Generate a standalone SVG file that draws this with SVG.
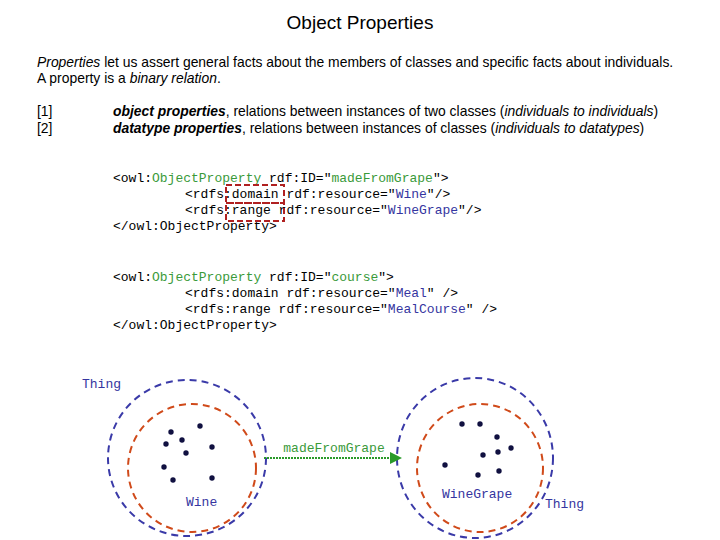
<svg xmlns="http://www.w3.org/2000/svg" width="720" height="540" viewBox="0 0 720 540">
<style>
.s{font-family:"Liberation Sans",Arial,sans-serif;font-size:13.9px;fill:#000}
.c{font-family:"Liberation Mono","Courier New",monospace;font-size:13px;fill:#000}
.g{fill:#3a9a3a}.b{fill:#3535a0}
.ob{fill:none;stroke:#3a3aa8;stroke-width:2;stroke-dasharray:7,5}
.or{fill:none;stroke:#d04a1a;stroke-width:2;stroke-dasharray:7,5}
.d{fill:#101040}
</style>
<defs><marker id="ah" markerWidth="6" markerHeight="6" refX="5" refY="3" orient="auto"><path d="M0,0L6,3L0,6z" fill="#2a9a2a"/></marker></defs>
<text x="360" y="29" text-anchor="middle" font-family="Liberation Sans,Arial,sans-serif" font-size="19">Object Properties</text>
<text class="s" x="37" y="67"><tspan font-style="italic">Properties</tspan> let us assert general facts about the members of classes and specific facts about individuals.</text>
<text class="s" x="37" y="83">A property is a <tspan font-style="italic">binary relation</tspan>.</text>
<text class="s" x="37" y="116">[1]</text>
<text class="s" x="37" y="133">[2]</text>
<text class="s" x="113" y="116"><tspan font-weight="bold" font-style="italic">object properties</tspan>, relations between instances of two classes (<tspan font-style="italic">individuals to individuals</tspan>)</text>
<text class="s" x="113" y="133"><tspan font-weight="bold" font-style="italic">datatype properties</tspan>, relations between instances of classes (<tspan font-style="italic">individuals to datatypes</tspan>)</text>
<text class="c" x="113" y="182">&lt;owl:<tspan class="g">ObjectProperty</tspan> rdf:ID="<tspan class="g">madeFromGrape</tspan>"&gt;</text>
<text class="c" x="185" y="198">&lt;rdfs:domain rdf:resource="<tspan class="b">Wine</tspan>"/&gt;</text>
<text class="c" x="185" y="214">&lt;rdfs:range rdf:resource="<tspan class="b">WineGrape</tspan>"/&gt;</text>
<text class="c" x="113" y="230">&lt;/owl:ObjectProperty&gt;</text>
<rect x="226" y="185" width="58" height="18" fill="none" stroke="#b02020" stroke-width="2" stroke-dasharray="6,3"/>
<rect x="226" y="203" width="58" height="18" fill="none" stroke="#b02020" stroke-width="2" stroke-dasharray="6,3"/>
<text class="c" x="113" y="281">&lt;owl:<tspan class="g">ObjectProperty</tspan> rdf:ID="<tspan class="g">course</tspan>"&gt;</text>
<text class="c" x="185" y="297">&lt;rdfs:domain rdf:resource="<tspan class="b">Meal</tspan>" /&gt;</text>
<text class="c" x="185" y="313">&lt;rdfs:range rdf:resource="<tspan class="b">MealCourse</tspan>" /&gt;</text>
<text class="c" x="113" y="329">&lt;/owl:ObjectProperty&gt;</text>
<g id="thingL"><ellipse class="ob" cx="187" cy="458" rx="79" ry="78"/><text class="c b" x="82" y="388">Thing</text></g>
<g id="wine"><ellipse class="or" cx="192" cy="468" rx="64" ry="64"/><text class="c b" x="186" y="506">Wine</text>
<g class="d"><circle cx="171" cy="432" r="2.7"/><circle cx="182" cy="440" r="2.7"/><circle cx="200" cy="426" r="2.7"/><circle cx="166" cy="444" r="2.7"/><circle cx="186" cy="453" r="2.7"/><circle cx="212" cy="447" r="2.7"/><circle cx="164" cy="467" r="2.7"/><circle cx="173" cy="480" r="2.7"/><circle cx="212" cy="478" r="2.7"/></g></g>
<g id="thingR"><ellipse class="ob" cx="475" cy="458" rx="78" ry="80"/><text class="c b" x="545" y="508">Thing</text></g>
<g id="winegrape"><ellipse class="or" cx="480" cy="468" rx="63" ry="64"/><text class="c b" x="442" y="498">WineGrape</text>
<g class="d"><circle cx="462" cy="424" r="2.7"/><circle cx="480" cy="424" r="2.7"/><circle cx="497" cy="437" r="2.7"/><circle cx="483" cy="455" r="2.7"/><circle cx="498" cy="452" r="2.7"/><circle cx="511" cy="448" r="2.7"/><circle cx="445" cy="465" r="2.7"/><circle cx="478" cy="475" r="2.7"/><circle cx="499" cy="471" r="2.7"/></g></g>
<g id="connectors"><line x1="264" y1="458" x2="400" y2="458" stroke="#2a9a2a" stroke-width="2" stroke-dasharray="2,1" marker-end="url(#ah)"/>
<text class="c g" x="334" y="452" text-anchor="middle">madeFromGrape</text></g>
</svg>
